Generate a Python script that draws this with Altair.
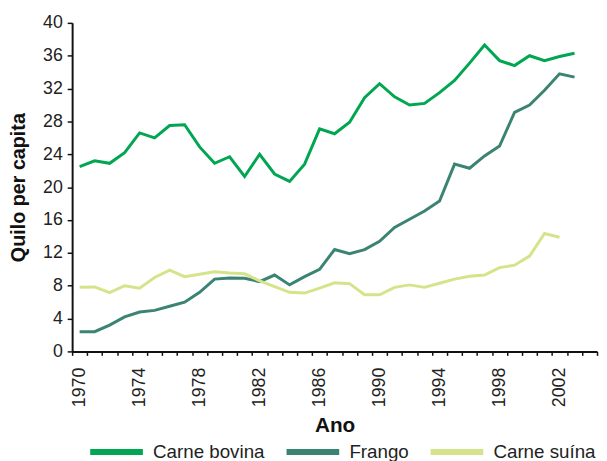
import altair as alt
import pandas as pd

years = list(range(1970, 2004))
carne_bovina = [22.5, 23.2, 22.9, 24.2, 26.6, 26.0, 27.5, 27.6, 24.9, 22.9,
                23.7, 21.3, 24.0, 21.6, 20.7, 22.8, 27.1, 26.5, 27.9, 30.9,
                32.6, 31.0, 30.0, 30.2, 31.5, 33.0, 35.1, 37.3, 35.4, 34.8,
                36.0, 35.4, 35.9, 36.3]
frango = [2.4, 2.4, 3.2, 4.2, 4.8, 5.0, 5.5, 6.0, 7.2, 8.8,
          8.95, 8.9, 8.5, 9.3, 8.1, 9.1, 10.0, 12.4, 11.9, 12.4,
          13.4, 15.1, 16.1, 17.1, 18.3, 22.8, 22.3, 23.8, 25.0, 29.1,
          30.0, 31.8, 33.8, 33.4]
carne_suina = [7.8, 7.85, 7.15, 8.0, 7.7, 9.0, 9.9, 9.1, 9.4, 9.7,
               9.55, 9.45, 8.6, 7.9, 7.2, 7.1, 7.7, 8.35, 8.25, 6.9,
               6.9, 7.8, 8.1, 7.8, 8.3, 8.8, 9.15, 9.3, 10.2, 10.5,
               11.6, 14.35, 13.9]
series_names = ["Carne bovina", "Frango", "Carne suína"]
series_colors = ["#00a651", "#3b8373", "#d5e48a"]
axis_years = list(range(1970, 2005))

rows = []
for name, vals in zip(series_names, [carne_bovina, frango, carne_suina]):
    for y, v in zip(years, vals):
        rows.append({"Ano": y, "valor": v, "serie": name})
df = pd.DataFrame(rows)

FONT = "Liberation Sans"

chart = alt.Chart(df).mark_line(strokeWidth=3).encode(
    x=alt.X(
        "Ano:O",
        bandPosition=0.5,
        scale=alt.Scale(type="band", domain=axis_years, paddingInner=0, paddingOuter=0),
        axis=alt.Axis(
            title="Ano",
            tickBand="extent",
            labelAngle=270,
            labelExpr="((datum.value - 1970) % 4 == 0 && datum.value <= 2002) ? datum.label : ''",
            labelOverlap=False,
            labelFontSize=18,
            labelPadding=12,
            tickSize=4,
            titleFontSize=21,
            titlePadding=8,
        ),
    ),
    y=alt.Y(
        "valor:Q",
        scale=alt.Scale(domain=[0, 40], nice=False, zero=True),
        axis=alt.Axis(
            title="Quilo per capita",
            values=list(range(0, 41, 4)),
            labelFontSize=18,
            labelPadding=5,
            tickSize=5,
            titleFontSize=20,
            titlePadding=14,
        ),
    ),
    color=alt.Color(
        "serie:N",
        scale=alt.Scale(domain=series_names, range=series_colors),
        sort=series_names,
        legend=alt.Legend(
            title=None,
            orient="none",
            direction="horizontal",
            legendX=15,
            legendY=405,
            symbolType="stroke",
            symbolSize=2850,
            symbolStrokeWidth=6,
            labelFontSize=19,
            labelOffset=7,
            columnPadding=9,
            padding=0,
        ),
    ),
).properties(
    width=532,
    height=333,
    autosize=alt.AutoSizeParams(type="none"),
    padding={"left": 65, "top": 12, "right": 2, "bottom": 108},
).configure_view(stroke=None).configure_axis(
    domainColor="#111111",
    domainWidth=2,
    tickColor="#111111",
    tickWidth=1.5,
    grid=False,
    labelColor="#222222",
    titleColor="#111111",
    labelFont=FONT,
    titleFont=FONT,
    titleFontWeight="bold",
).configure_legend(
    labelFont=FONT,
    labelColor="#222222",
)

chart.save("out.html", embed_options={"renderer": "svg", "actions": False})
